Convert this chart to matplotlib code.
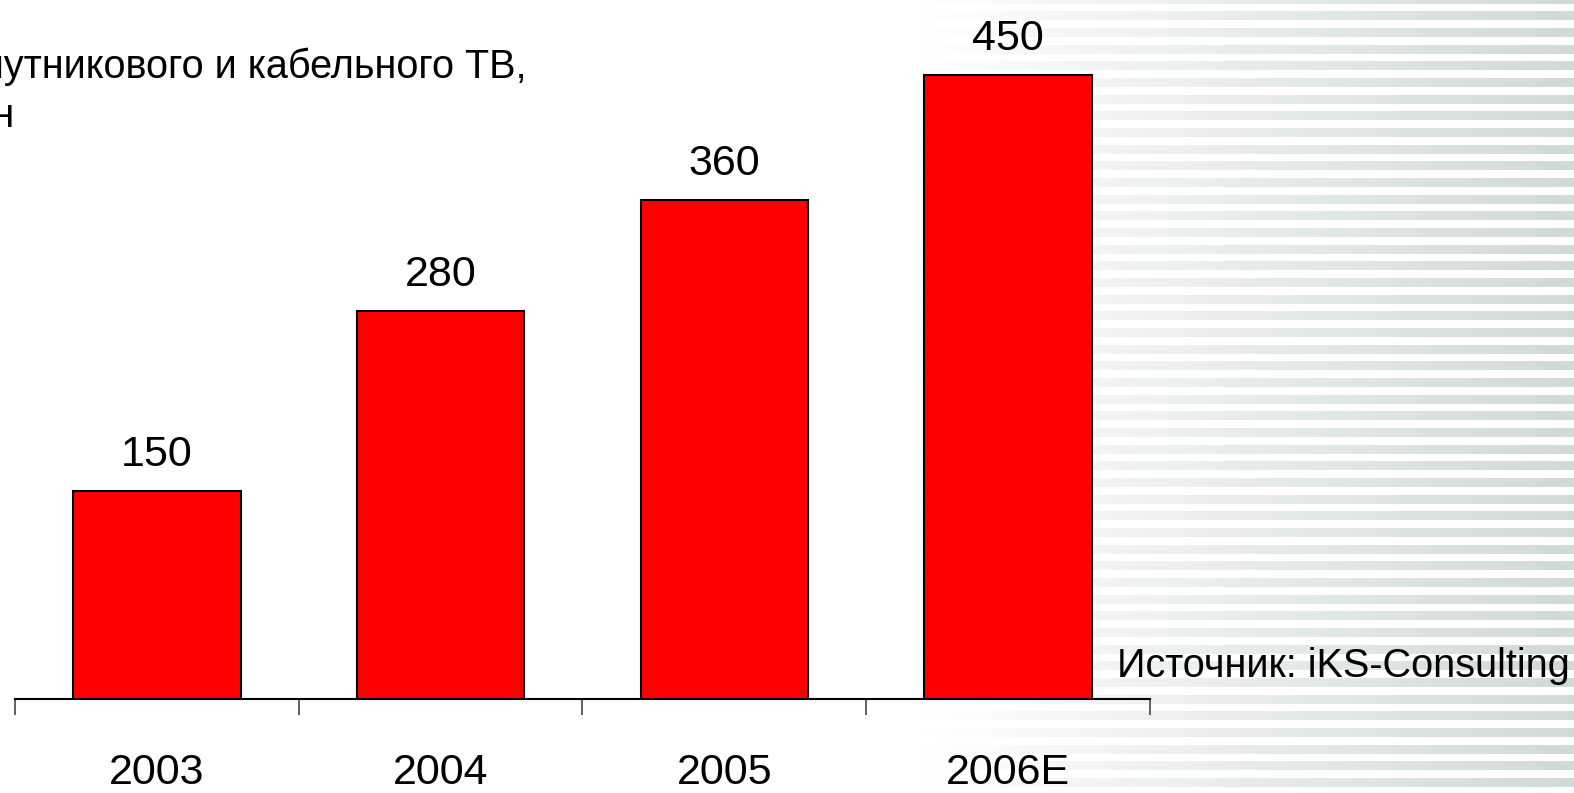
import matplotlib
matplotlib.use("Agg")
import matplotlib.pyplot as plt
import matplotlib.transforms as mtransforms
from matplotlib import font_manager
import numpy as np

years = ["2003", "2004", "2005", "2006E"]
values = [150, 280, 360, 450]
title_line1 = "Объем рынка спутникового и кабельного ТВ,"
title_line2 = "$ млн"
source = "Источник: iKS-Consulting"

names = {f.name for f in font_manager.fontManager.ttflist}
narrow = "Liberation Sans Narrow" if "Liberation Sans Narrow" in names else "Liberation Sans"
plt.rcParams["font.family"] = ["Liberation Sans", "DejaVu Sans"]

W, H = 1574, 793
fig = plt.figure(figsize=(W / 100, H / 100), dpi=100)

# striped background, fading in from the left
bg = fig.add_axes([0, 0, 1, 1], zorder=0)
yy = np.arange(H)[:, None]
xx = np.arange(W)[None, :]
stripe = ((yy - 11) % 16.66) < 9
t = np.clip((xx - 920) / (W - 920), 0, 1)
grey = np.array([0.815, 0.855, 0.843])
img = np.ones((H, W, 3))
mix = 1 - (1 - grey)[None, None, :] * t[..., None]
img = np.where(stripe[..., None], mix, img)
bg.imshow(img, aspect="auto", extent=[0, W, H, 0])
bg.set_axis_off()

ax = fig.add_axes([15 / W, (H - 699) / H, 1135 / W, 693.5 / H], zorder=1)
ax.patch.set_alpha(0)
x = np.arange(len(years))
bars = ax.bar(x, values, width=0.59, color="#ff0000", edgecolor="black", linewidth=1.5)
ax.set_xlim(-0.5, len(years) - 0.5)
ax.set_ylim(0, 500)
for s in ["top", "right", "left"]:
    ax.spines[s].set_visible(False)
ax.spines["bottom"].set_linewidth(1.5)
ax.set_yticks([])
ax.set_xticks(np.arange(len(years) + 1) - 0.5)
ax.set_xticklabels([])
ax.tick_params(axis="x", length=11.5, width=1.2, color="#444444")

for b, v in zip(bars, values):
    ax.annotate(str(v), (b.get_x() + b.get_width() / 2, v), xytext=(0, 18),
                textcoords="offset points", ha="center", va="baseline",
                fontsize=31, family=[narrow, "DejaVu Sans"])

trans = mtransforms.blended_transform_factory(ax.transData, fig.transFigure)
for xi, yr in zip(x, years):
    ax.text(xi, 0, yr, transform=trans, ha="center", va="bottom",
            fontsize=31, family=[narrow, "DejaVu Sans"])

fig.text(527 / W, (H - 78) / H, title_line1, ha="right", va="baseline", fontsize=28.5)
fig.text(14 / W, (H - 127) / H, title_line2, ha="right", va="baseline", fontsize=28.5)
fig.text(1117 / W, (H - 677) / H, source, ha="left", va="baseline", fontsize=28.5)

fig.savefig("out.png", dpi=100)
